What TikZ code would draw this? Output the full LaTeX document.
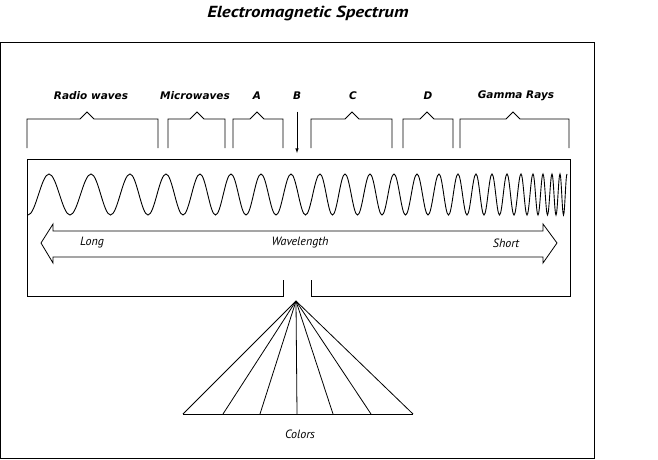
\documentclass[tikz,border=0pt]{standalone}
\usepackage{fontspec}
\usepackage{tikz}
\newfontfamily\titlefont{PT Sans Bold Italic}[FakeStretch=1.18]
\newfontfamily\bandfont{DejaVu Sans Bold Oblique}
\newfontfamily\notefont{PT Sans Italic}

\begin{document}
\begin{tikzpicture}[x=1pt,y=-1pt,line width=0.8pt,
  band/.style={font=\bandfont\fontsize{10.5}{12}\selectfont},
  note/.style={font=\notefont\fontsize{12}{14}\selectfont}]
\useasboundingbox (0,0) rectangle (658,460);

\node [font=\titlefont\fontsize{16}{18}\selectfont] (title) at (308,13) {Electromagnetic Spectrum};

% frame
\draw (0.5,42) rectangle (594,458);

% band names
\node [band] (radio) at (91,96) {Radio waves};
\node [band] (micro) at (195,96) {Microwaves};
\node [band] (a) at (257,96) {A};
\node [band] (b) at (297,96) {B};
\node [band] (c) at (353,96) {C};
\node [band] (d) at (428,96) {D};
\node [band] (gamma) at (516,96) {Gamma Rays};

\foreach \l/\r/\m in {27/158/87, 168/225/197, 233/283/257, 311/392/352, 403/453/427, 460/569/513}
  \draw (\l,148) -- (\l,119) -- (\m-7,119) -- (\m,112) -- (\m+7,119) -- (\r,119) -- (\r,148);

\coordinate (btip) at (297,153);
\draw [-latex,line width=0.6pt,shorten <=8pt] (b.south) -- (btip);

% spectrum box with slit
\draw (283,280) -- (283,296) -- (27,296) -- (27,159) -- (570,159) -- (570,296) -- (311,296) -- (311,280);

% wave
\draw [line width=0.9pt] (28,215) cos (38.5,194.5) sin (49,174)
  \foreach \q [remember=\q as \p (initially 49)] in {91,130,166,200,231,261,291,320,345,370,394,417,439,458,476,492,507,521,533,543,552,560,567}
  { cos ({(3*\p+\q)/4},194.5) sin ({(\p+\q)/2},215) cos ({(\p+3*\q)/4},194.5) sin (\q,174) };

% wavelength arrow
\draw (41,243) -- (53,224) -- (53,231) -- (543,231) -- (543,224) -- (557,243)
  -- (543,263) -- (543,257) -- (53,257) -- (53,263) -- cycle;
\node [note] (long) at (92,243) {Long};
\node [note] (wl) at (300,243) {Wavelength};
\node [note] (short) at (506,243) {Short};

% colors fan
\coordinate (apex) at (296,301);
\foreach \x [count=\i] in {183,223,260,297,333,371,413}
  \coordinate (f\i) at (\x,414);
\foreach \i in {1,...,7}
  \draw (apex) -- (f\i);
\draw (f1) -- (f7);
\node [note] (colors) at (300,434) {Colors};

\end{tikzpicture}
\end{document}
